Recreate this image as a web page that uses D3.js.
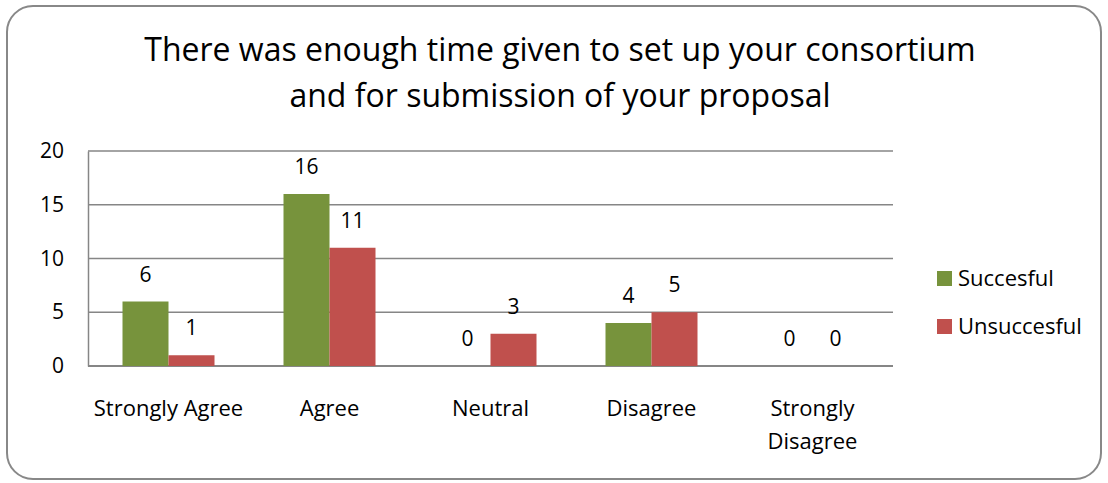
<!DOCTYPE html>
<html>
<head>
<meta charset="utf-8">
<script src="https://cdn.jsdelivr.net/npm/d3@7"></script>
<style>
  body { margin: 0; background: #fff; }
  svg { font-family: "Open Sans", sans-serif; }
</style>
</head>
<body>
<div id="chart"></div>
<script>
// data
const categories = ["Strongly Agree", "Agree", "Neutral", "Disagree", "Strongly Disagree"];
const seriesNames = ["Succesful", "Unsuccesful"];
const succesful = [6, 16, 0, 4, 0];
const unsuccesful = [1, 11, 3, 5, 0];
const yTicks = [0, 5, 10, 15, 20];
const colors = ["#77933C", "#C0504D"];

const W = 1108, H = 483;
const plot = { left: 88, right: 893, top: 151, bottom: 366 };
const FONT = "'Open Sans', sans-serif";

const svg = d3.select("#chart").append("svg")
  .attr("width", W).attr("height", H);

// outer frame
svg.append("rect")
  .attr("x", 7).attr("y", 6)
  .attr("width", W - 14).attr("height", H - 10)
  .attr("rx", 26).attr("ry", 26)
  .attr("fill", "#fff")
  .attr("stroke", "#888").attr("stroke-width", 2);

// title
const title = svg.append("text")
  .attr("text-anchor", "middle")
  .attr("font-size", 32)
  .attr("fill", "#000");
title.append("tspan").attr("x", 560).attr("y", 61)
  .text("There was enough time given to set up your consortium");
title.append("tspan").attr("x", 560).attr("y", 107)
  .text("and for submission of your proposal");

const x0 = d3.scaleBand().domain(categories)
  .range([plot.left, plot.right]).paddingInner(0).paddingOuter(0);
// gap width 150% => two bars occupy 2/3.5 of the band
const barW = x0.bandwidth() / 3.5;
const x1 = d3.scaleBand().domain(seriesNames)
  .range([0, barW * 2]);
const y = d3.scaleLinear().domain([0, 20]).range([plot.bottom, plot.top]);

// gridlines
svg.append("g").selectAll("line")
  .data(yTicks.filter(t => t > 0))
  .join("line")
  .attr("x1", plot.left).attr("x2", plot.right)
  .attr("y1", d => y(d)).attr("y2", d => y(d))
  .attr("stroke", "#868686").attr("stroke-width", 1.5);

// y axis
const yAxis = svg.append("g")
  .attr("transform", `translate(${plot.left},0)`)
  .call(d3.axisLeft(y).tickValues(yTicks).tickSize(0).tickPadding(24));
yAxis.select(".domain").attr("stroke", "#868686").attr("stroke-width", 1.5);
yAxis.selectAll("text").attr("font-size", 21).attr("fill", "#000")
  .attr("font-family", FONT);

// bottom axis line
svg.append("line")
  .attr("x1", plot.left).attr("x2", plot.right)
  .attr("y1", plot.bottom).attr("y2", plot.bottom)
  .attr("stroke", "#868686").attr("stroke-width", 2);

// bars
const rows = categories.map((c, i) => ({ cat: c, vals: [succesful[i], unsuccesful[i]] }));
const groups = svg.append("g").selectAll("g")
  .data(rows).join("g")
  .attr("transform", d => `translate(${x0(d.cat) + (x0.bandwidth() - barW * 2) / 2},0)`);

groups.selectAll("rect")
  .data(d => d.vals.map((v, k) => ({ name: seriesNames[k], v, k })))
  .join("rect")
  .attr("x", d => x1(d.name))
  .attr("width", x1.bandwidth())
  .attr("y", d => y(d.v))
  .attr("height", d => y(0) - y(d.v))
  .attr("fill", d => colors[d.k]);

// data labels
groups.selectAll("text")
  .data(d => d.vals.map((v, k) => ({ name: seriesNames[k], v, k })))
  .join("text")
  .attr("x", d => x1(d.name) + x1.bandwidth() / 2)
  .attr("y", d => y(d.v) - 20)
  .attr("text-anchor", "middle")
  .attr("font-size", 21)
  .attr("fill", "#000")
  .text(d => d.v);

// category labels (wrapped like the original)
const catLabels = svg.append("g").selectAll("text")
  .data(categories).join("text")
  .attr("text-anchor", "middle")
  .attr("font-size", 22)
  .attr("fill", "#000");
catLabels.each(function(d) {
  const cx = x0(d) + x0.bandwidth() / 2;
  const lines = d === "Strongly Disagree" ? ["Strongly", "Disagree"] : [d];
  lines.forEach((ln, i) => {
    d3.select(this).append("tspan")
      .attr("x", cx).attr("y", 416 + i * 33).text(ln);
  });
});

// legend
const legend = svg.append("g").selectAll("g")
  .data(seriesNames).join("g")
  .attr("transform", (d, i) => `translate(937,${271 + i * 48})`);
legend.append("rect")
  .attr("width", 15).attr("height", 15)
  .attr("fill", (d, i) => colors[i]);
legend.append("text")
  .attr("x", 21).attr("y", 15)
  .attr("font-size", 22).attr("fill", "#000")
  .text(d => d);
</script>
</body>
</html>
